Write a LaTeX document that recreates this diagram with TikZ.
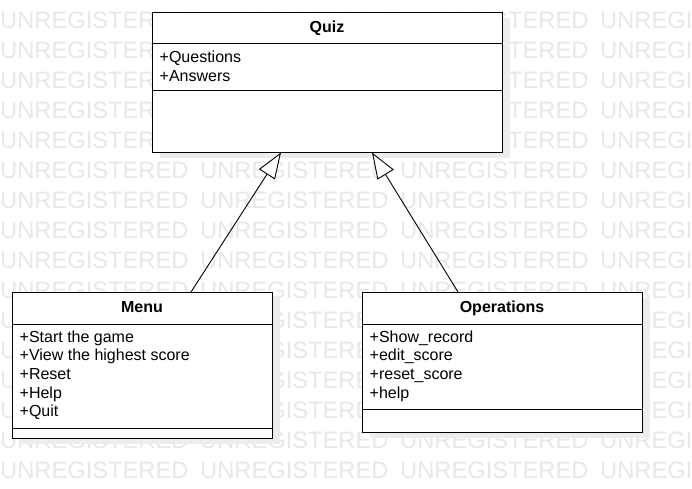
\documentclass[tikz,border=0pt]{standalone}
\usepackage{fontspec}
\setmainfont{Liberation Sans}
\usetikzlibrary{arrows.meta,calc}
\begin{document}
\begin{tikzpicture}[x=1pt,y=-1pt,
  wm/.style={text=black!9,font=\fontsize{23.7}{26}\selectfont,inner sep=0pt,anchor=base west},
  classbox/.style={draw=black,line width=1pt,fill=white,rectangle,inner sep=0pt,anchor=north west},
  shadowbox/.style={fill=black!7,draw=none,rectangle,inner sep=0pt,anchor=north west},
  divider/.style={draw=black,line width=1pt},
  title/.style={font=\fontsize{16}{18}\selectfont\bfseries,inner sep=0pt,anchor=base},
  item/.style={font=\fontsize{16}{18}\selectfont,inner sep=0pt,anchor=base west},
  gen/.style={draw=black,line width=0.9pt,-{Triangle[open,fill=white,length=26pt,width=19pt,line width=0.9pt]}}
]
\useasboundingbox (0,0) rectangle (692,488);
\fill[white] (0,0) rectangle (692,488);
% watermark
\begin{scope}
\clip (0,0) rectangle (692,488);
\foreach \r in {0,...,15}{
  \foreach \c in {0,...,3}{
    \node[wm] (wm-\r-\c) at (\c*200,28+\r*30) {UNREGISTERED};
  }
}
\end{scope}
% shadows
\node[shadowbox,minimum width=350pt,minimum height=140pt] (quizsh) at (160,18) {};
\node[shadowbox,minimum width=260pt,minimum height=146pt] (menush) at (20,298) {};
\node[shadowbox,minimum width=280pt,minimum height=140pt] (opsh) at (370,298) {};
% boxes
\node[classbox,minimum width=350pt,minimum height=140pt] (quiz) at (152,12) {};
\node[classbox,minimum width=260pt,minimum height=146pt] (menu) at (12,292) {};
\node[classbox,minimum width=280pt,minimum height=140pt] (ops) at (362,292) {};
% dividers
\draw[divider] ([yshift=-31pt]quiz.north west) -- ([yshift=-31pt]quiz.north east);
\draw[divider] ([yshift=-78pt]quiz.north west) -- ([yshift=-78pt]quiz.north east);
\draw[divider] ([yshift=-32pt]menu.north west) -- ([yshift=-32pt]menu.north east);
\draw[divider] ([yshift=11pt]menu.south west) -- ([yshift=11pt]menu.south east);
\draw[divider] ([yshift=-32pt]ops.north west) -- ([yshift=-32pt]ops.north east);
\draw[divider] ([yshift=24pt]ops.south west) -- ([yshift=24pt]ops.south east);
% titles
\node[title] (quizt) at (327,32.5) {Quiz};
\node[title] (menut) at (142,312.7) {Menu};
\node[title] (opt) at (502,312.7) {Operations};
% items
\node[item] (q1) at (159.5,62.5) {+Questions};
\node[item] (q2) at (159.5,81) {+Answers};
\node[item] (m1) at (19.5,342.3) {+Start the game};
\node[item] (m2) at (19.5,360.9) {+View the highest score};
\node[item] (m3) at (19.5,379.5) {+Reset};
\node[item] (m4) at (19.5,398.1) {+Help};
\node[item] (m5) at (19.5,416.7) {+Quit};
\node[item] (o1) at (369.5,342.3) {+Show\_record};
\node[item] (o2) at (369.5,360.9) {+edit\_score};
\node[item] (o3) at (369.5,379.5) {+reset\_score};
\node[item] (o4) at (369.5,398.1) {+help};
% generalizations
\draw[gen] ([xshift=179pt]menu.north west) -- ([xshift=129pt,yshift=0.5pt]quiz.south west);
\draw[gen] ([xshift=96pt]ops.north west) -- ([xshift=220pt,yshift=0.5pt]quiz.south west);
\end{tikzpicture}
\end{document}
